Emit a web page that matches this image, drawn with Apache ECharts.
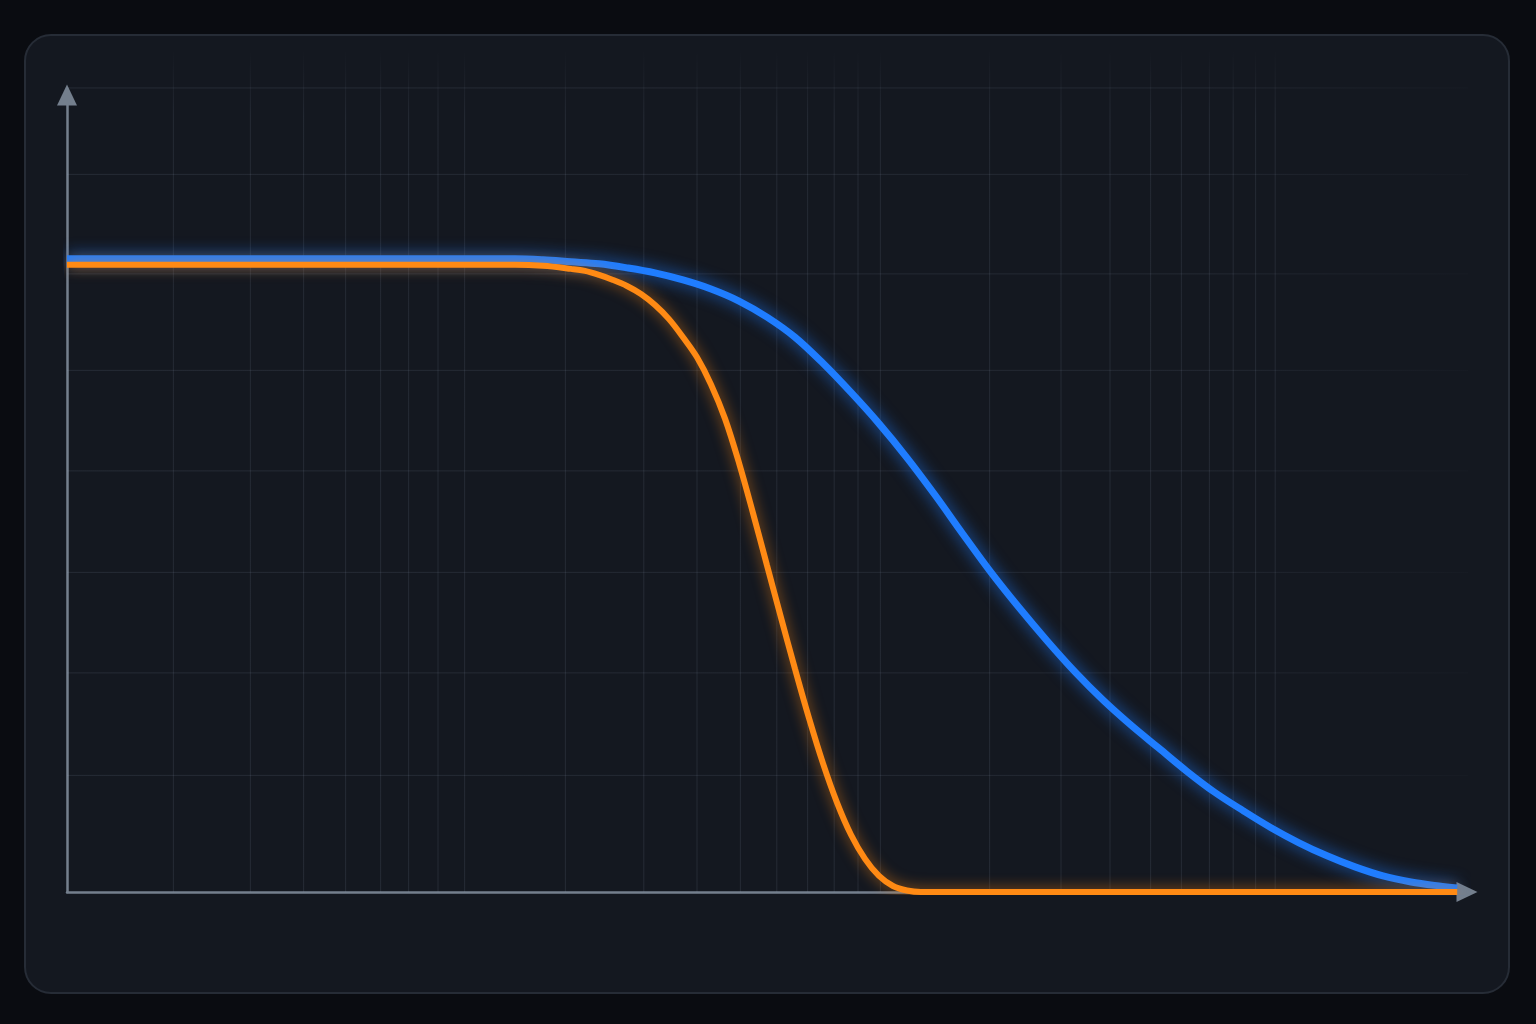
<!DOCTYPE html>
<html>
<head>
<meta charset="utf-8">
<title>Response curves</title>
<script src="https://cdn.jsdelivr.net/npm/echarts@6/dist/echarts.min.js"></script>
<style>
  html, body { margin: 0; padding: 0; background: #0a0c11; }
  #chart { width: 1536px; height: 1024px; }
</style>
</head>
<body>
<div id="chart"></div>
<script>
// positions along the x axis (0 = y axis, 100 = end of x axis)
var gridX = [7.6, 13.1, 16.9, 19.9, 22.4, 24.4, 26.5, 28.4,
             35.6, 41.2, 45.0, 48.1, 50.7, 52.9, 54.8, 56.5, 58.1,
             65.9, 71.0, 74.5, 77.4, 79.6, 81.6, 83.3, 84.9, 86.3];
// horizontal grid levels
var gridY = [1.16, 2.18, 3.18, 4.19, 5.19, 6.15, 7.14, 8.0];

// blue curve (gentle roll-off)
var blueX = [0, 16, 30, 32, 34, 36, 38, 40, 42, 44, 46, 48, 50, 52, 54, 56, 58,
             60, 62, 64, 66, 68, 70, 72, 74, 76, 78, 80, 82, 84, 86, 88, 90,
             92, 94, 96, 98, 99.3];
var blueY = [6.30, 6.30, 6.30, 6.30, 6.29, 6.27, 6.25, 6.21, 6.16, 6.09, 6.00, 5.88,
             5.72, 5.52, 5.26, 4.97, 4.66, 4.32, 3.95, 3.56, 3.18, 2.83, 2.50,
             2.19, 1.91, 1.66, 1.43, 1.20, 0.99, 0.81, 0.64, 0.49, 0.36, 0.25,
             0.16, 0.10, 0.06, 0.04];

// orange curve (steep roll-off)
var orangeX = [0, 16, 30, 32, 34, 36, 37, 38, 39, 40, 41, 42, 43, 44, 45, 46, 47,
               48, 49, 50, 51, 52, 53, 54, 55, 56, 57, 58, 59, 60, 61, 70, 80, 90, 99.3];
var orangeY = [6.24, 6.24, 6.24, 6.24, 6.23, 6.20, 6.18, 6.14, 6.09, 6.03, 5.95,
               5.84, 5.70, 5.52, 5.32, 5.05, 4.71, 4.27, 3.77, 3.25, 2.73, 2.22,
               1.73, 1.28, 0.89, 0.57, 0.33, 0.16, 0.06, 0.015, 0, 0, 0, 0, 0];

function zip(xs, ys) {
  return xs.map(function (x, i) { return [x, ys[i]]; });
}

// grid lines as broken polylines ('-' breaks the line)
var vLines = [];
gridX.forEach(function (x) {
  vLines.push([x, 0], [x, 8.4], [x, '-']);
});
var hLines = [];
gridY.forEach(function (y) {
  hLines.push([0, y], [101.6, y], ['-', y]);
});

// vertical lines fade out near the top, horizontal ones toward the right
var vLineColor = new echarts.graphic.LinearGradient(0, 50, 0, 892, [
  { offset: 0, color: 'rgba(150, 165, 190, 0)' },
  { offset: 0.08, color: 'rgba(150, 165, 190, 0.12)' },
  { offset: 1, color: 'rgba(150, 165, 190, 0.13)' }
], true);
var hLineColor = new echarts.graphic.LinearGradient(67, 0, 1490, 0, [
  { offset: 0, color: 'rgba(150, 165, 190, 0.13)' },
  { offset: 0.8, color: 'rgba(150, 165, 190, 0.11)' },
  { offset: 1, color: 'rgba(150, 165, 190, 0.01)' }
], true);

var chart = echarts.init(document.getElementById('chart'));

var option = {
  backgroundColor: '#0a0c11',
  animation: false,
  graphic: [{
    type: 'rect',
    z: -10,
    shape: { x: 25, y: 35, width: 1484, height: 958, r: 26 },
    style: { fill: '#141820', stroke: '#262c36', lineWidth: 2 }
  }],
  grid: { left: 67, right: 69, top: 95, bottom: 132 },
  xAxis: {
    type: 'value',
    min: 0,
    max: 100,
    axisLine: {
      show: true,
      symbol: ['none', 'triangle'],
      symbolSize: [20, 21],
      lineStyle: { color: '#747f8d', width: 2.5 }
    },
    axisTick: { show: false },
    axisLabel: { show: false },
    splitLine: { show: false }
  },
  yAxis: {
    type: 'value',
    min: 0,
    max: 7.93,
    axisLine: {
      show: true,
      symbol: ['none', 'triangle'],
      symbolSize: [20, 21],
      lineStyle: { color: '#747f8d', width: 2.5 }
    },
    axisTick: { show: false },
    axisLabel: { show: false },
    splitLine: { show: false }
  },
  series: [
    {
      name: 'vgrid',
      type: 'line',
      z: 1,
      clip: false,
      silent: true,
      showSymbol: false,
      connectNulls: false,
      data: vLines,
      lineStyle: { color: vLineColor, width: 1 }
    },
    {
      name: 'hgrid',
      type: 'line',
      z: 1,
      clip: false,
      silent: true,
      showSymbol: false,
      connectNulls: false,
      data: hLines,
      lineStyle: { color: hLineColor, width: 1 }
    },
    {
      name: 'blue',
      type: 'line',
      z: 3,
      smooth: 0.35,
      showSymbol: false,
      data: zip(blueX, blueY),
      lineStyle: {
        color: '#1f7dff',
        width: 7,
        shadowBlur: 16,
        shadowColor: 'rgba(31, 125, 255, 0.8)'
      }
    },
    {
      name: 'orange',
      type: 'line',
      z: 4,
      smooth: 0.35,
      showSymbol: false,
      data: zip(orangeX, orangeY),
      lineStyle: {
        color: '#ff8a14',
        width: 6,
        shadowBlur: 14,
        shadowColor: 'rgba(255, 138, 20, 0.65)'
      }
    }
  ]
};

chart.setOption(option);
</script>
</body>
</html>
